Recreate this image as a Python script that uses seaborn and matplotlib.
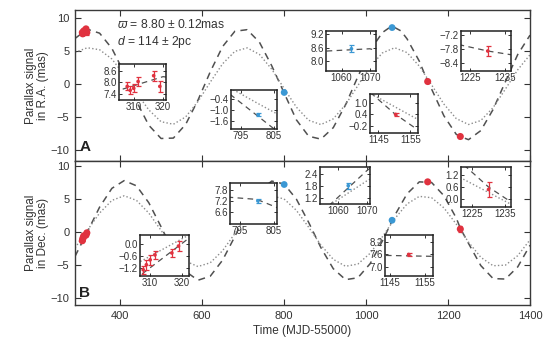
import matplotlib
matplotlib.use("Agg")
import matplotlib.pyplot as plt
from matplotlib.ticker import FuncFormatter
import seaborn as sns

sns.set_style("ticks")
plt.rcParams["font.family"] = ["Liberation Sans", "DejaVu Sans"]
plt.rcParams["mathtext.fontset"] = "custom"
plt.rcParams["mathtext.rm"] = "Liberation Sans"
plt.rcParams["mathtext.it"] = "Liberation Sans:italic"

# ---------------- model curves (time in MJD-55000) ----------------
grid_t = list(range(290, 1401, 30))

ra_model_t = [290, 320, 350, 380, 410, 440, 470, 500, 530, 560, 590, 620, 650,
              680, 710, 740, 770, 800, 830, 860, 890, 920, 950, 980, 1010, 1040,
              1055, 1070, 1085, 1100, 1130, 1150, 1160, 1190, 1220, 1230, 1250,
              1280, 1310, 1340, 1370, 1400]
ra_model = [6.90, 8.30, 7.70, 5.40, 1.70, -2.60, -6.20, -8.20, -8.14, -6.07,
            -2.41, 1.87, 5.67, 7.99, 8.23, 6.33, 2.77, -1.30, -5.38, -7.86,
            -8.30, -6.57, -3.13, 1.13, 5.09, 7.80, 8.45, 8.55, 8.05, 6.85,
            3.47, 0.45, -0.75, -4.78, -7.57, -7.90, -8.38, -7.01, -3.82, 0.38,
            4.47, 7.40]
ra_alt = [4.80, 5.50, 5.20, 3.80, 1.40, -1.30, -3.88, -5.67, -6.05, -4.94,
          -2.62, 0.31, 3.07, 4.96, 5.48, 4.49, 2.26, -0.64, -3.46, -5.45,
          -6.10, -5.24, -3.09, -0.22, 2.63, 4.72, 5.50, 4.77, 2.72, -0.12,
          -3.01, -5.19, -6.09, -5.49, -3.54, -0.74, 2.17, 4.44]

dec_model_t = grid_t[:32] + [1230] + grid_t[32:]
dec_model = [-3.66, 0.03, 3.78, 6.62, 7.79, 7.00, 4.45, 0.81, -2.98, -5.93,
             -7.26, -6.65, -4.23, -0.65, 3.17, 6.23, 7.72, 7.28, 5.00, 1.48,
             -2.35, -5.51, -7.17, -6.89, -4.76, -1.32, 2.53, 5.79, 7.60, 7.50,
             5.51, 2.15, 0.60, -1.70, -5.05, -7.01, -7.08, -5.25, -1.98]
dec_alt = [-2.38, 0.27, 2.89, 4.80, 5.50, 4.80, 2.89, 0.27, -2.39, -4.38,
           -5.19, -4.62, -2.80, -0.21, 2.47, 4.55, 5.48, 5.02, 3.30, 0.75,
           -1.95, -4.10, -5.15, -4.82, -3.19, -0.69, 2.03, 4.26, 5.41, 5.20,
           3.67, 1.23, -1.50, -3.80, -5.07, -4.98, -3.55, -1.16]

# ---------------- measurements ----------------
red_early_t = [307.8, 308.8, 310.0, 311.5, 316.8, 318.9]
red_early_ra = [7.80, 7.60, 7.70, 8.05, 8.35, 7.80]
red_early_ra_err = [0.20, 0.20, 0.20, 0.25, 0.25, 0.30]
red_early_dec = [-1.30, -1.05, -0.80, -0.55, -0.45, -0.10]
red_early_dec_err = [0.20, 0.25, 0.25, 0.20, 0.20, 0.25]

blue_t = [800.3, 1063.5]
blue_ra = [-1.25, 8.55]
blue_ra_err = [0.08, 0.15]
blue_dec = [7.20, 1.80]
blue_dec_err = [0.12, 0.15]

red_late_t = [1150.4, 1230.0]
red_late_ra = [0.40, -7.90]
red_late_ra_err = [0.10, 0.20]
red_late_dec = [7.60, 0.47]
red_late_dec_err = [0.08, 0.40]

RED = "#e0323f"
BLUE = "#3b98d4"
DASH_C = "#505050"
DOT_C = "#8c8c8c"
TXT = "#333333"

W, H = 545, 339
fig = plt.figure(figsize=(W / 100, H / 100), dpi=100)


def box(x0, y0, x1, y1):
    return [x0 / W, 1 - y1 / H, (x1 - x0) / W, (y1 - y0) / H]


ax_ra = fig.add_axes(box(75, 10, 530, 161))
ax_dec = fig.add_axes(box(75, 161, 530, 305))


def draw_curves(ax, mt, mv, av, lw=1.1):
    sns.lineplot(x=mt, y=mv, ax=ax, color=DASH_C, lw=lw,
                 linestyle=(0, (4.5, 3.5)), estimator=None, errorbar=None)
    sns.lineplot(x=grid_t, y=av, ax=ax, color=DOT_C, lw=1.0,
                 linestyle=(0, (1, 1.6)), estimator=None, errorbar=None)


def draw_points(ax, t, v, e, color, size, cap):
    ax.errorbar(t, v, yerr=e, fmt="none", ecolor=color, elinewidth=0.9,
                capsize=cap, capthick=0.9, zorder=3)
    sns.scatterplot(x=t, y=v, ax=ax, color=color, s=size, marker="o",
                    edgecolor="none", zorder=4)


def fmt1(v, p):
    return f"{v:.1f}".replace("-", "\u2212")


series = {
    "ra": (ax_ra, ra_model_t, ra_model, ra_alt,
           (red_early_ra, red_early_ra_err), (blue_ra, blue_ra_err),
           (red_late_ra, red_late_ra_err)),
    "dec": (ax_dec, dec_model_t, dec_model, dec_alt,
            (red_early_dec, red_early_dec_err), (blue_dec, blue_dec_err),
            (red_late_dec, red_late_dec_err)),
}

for key, (ax, mt, mv, av, re, bl, rl) in series.items():
    draw_curves(ax, mt, mv, av)
    draw_points(ax, red_early_t, re[0], re[1], RED, 26, 1.5)
    draw_points(ax, blue_t, bl[0], bl[1], BLUE, 24, 1.5)
    draw_points(ax, red_late_t, rl[0], rl[1], RED, 26, 1.5)
    ax.set_xlim(290, 1400)
    ax.set_xticks([400, 600, 800, 1000, 1200, 1400])
    ax.set_yticks([-10, -5, 0, 5, 10])
    ax.tick_params(direction="in", length=4, width=0.8, top=True, right=True,
                   labelsize=8, pad=4, colors=TXT)
    for s in ax.spines.values():
        s.set_linewidth(1.0)
        s.set_color("#3a3a3a")
    ax.set_xlabel("")
    ax.set_ylabel("")

ax_ra.set_ylim(-11.6, 11.2)
ax_dec.set_ylim(-11.0, 10.75)
ax_ra.tick_params(labelbottom=False)
ax_dec.set_xlabel("Time (MJD-55000)", fontsize=8.5, color=TXT, labelpad=3)

fig.text(37 / W, 1 - 86 / H, "Parallax signal\nin R.A. (mas)", rotation=90,
         ha="center", va="center", fontsize=8.5, color=TXT, linespacing=1.05)
fig.text(37 / W, 1 - 233 / H, "Parallax signal\nin Dec. (mas)", rotation=90,
         ha="center", va="center", fontsize=8.5, color=TXT, linespacing=1.05)

fig.text(117 / W, 1 - 24 / H, "$\\varpi$ = 8.80 \u00b1 0.12mas",
         fontsize=8.7, color=TXT, va="center")
fig.text(117 / W, 1 - 42 / H, "$d$ = 114 \u00b1 2pc",
         fontsize=8.7, color=TXT, va="center")
fig.text(85 / W, 1 - 147 / H, "A", fontsize=11, fontweight="bold",
         ha="center", va="center", color="#222222")
fig.text(85 / W, 1 - 293 / H, "B", fontsize=11, fontweight="bold",
         ha="center", va="center", color="#222222")

# ---------------- zoomed insets ----------------
insets = [
    ("ra", (119, 64, 166, 100), (305, 321), (7.1, 8.95), [310, 320], [7.4, 8.0, 8.6]),
    ("ra", (231, 90, 277, 129), (792, 806), (-2.0, 0.05), [795, 805], [-1.6, -1.0, -0.4]),
    ("ra", (326, 31, 376, 71), (1054.5, 1072.2), (7.55, 9.35), [1060, 1070], [8.0, 8.6, 9.2]),
    ("ra", (370, 94, 418, 133), (1142.4, 1157.4), (-0.6, 1.5), [1145, 1155], [-0.2, 0.4, 1.0]),
    ("ra", (461, 31, 511, 71), (1222.4, 1236.6), (-8.75, -7.05), [1225, 1235], [-8.4, -7.8, -7.2]),
    ("dec", (140, 235, 189, 276), (306.8, 322.2), (-1.62, 0.46), [310, 320], [-1.2, -0.6, 0.0]),
    ("dec", (230, 183, 277, 224), (792, 806), (5.9, 8.2), [795, 805], [6.6, 7.2, 7.8]),
    ("dec", (320, 167, 370, 204), (1053.5, 1071.2), (0.9, 2.72), [1060, 1070], [1.2, 1.8, 2.4]),
    ("dec", (385, 235, 433, 276), (1143.6, 1157.4), (6.54, 8.56), [1145, 1155], [7.0, 7.6, 8.2]),
    ("dec", (461, 167, 511, 207), (1221.8, 1236.7), (-0.43, 1.63), [1225, 1235], [0.0, 0.6, 1.2]),
]

for key, px, xl, yl, xt, yt in insets:
    _, mt, mv, av, re, bl, rl = series[key]
    ia = fig.add_axes(box(*px))
    ia.set_facecolor("white")
    draw_curves(ia, mt, mv, av, lw=0.9)
    draw_points(ia, red_early_t, re[0], re[1], RED, 7, 1.8)
    draw_points(ia, blue_t, bl[0], bl[1], BLUE, 7, 1.8)
    draw_points(ia, red_late_t, rl[0], rl[1], RED, 7, 1.8)
    ia.set_xlim(*xl)
    ia.set_ylim(*yl)
    ia.set_xticks(xt)
    ia.set_yticks(yt)
    ia.yaxis.set_major_formatter(FuncFormatter(fmt1))
    ia.xaxis.set_major_formatter(FuncFormatter(lambda v, p: f"{v:.0f}"))
    ia.tick_params(direction="in", length=2.5, width=0.7, top=True, right=True,
                   labelsize=7, pad=1.5, colors=TXT)
    for s in ia.spines.values():
        s.set_linewidth(1.1)
        s.set_color("#222222")
    ia.set_xlabel("")
    ia.set_ylabel("")

fig.savefig("out.png", dpi=100)
